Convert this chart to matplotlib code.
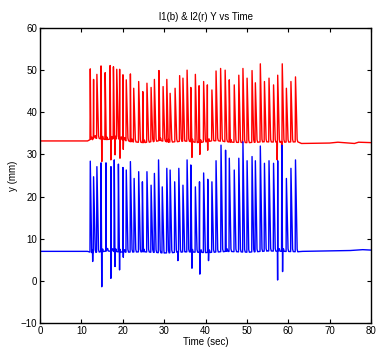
import matplotlib
matplotlib.use("Agg")
import matplotlib.pyplot as plt

# ---- data ----
red_spike_t = [12.1, 12.9, 13.7, 14.7, 15.7, 16.9, 17.7, 18.5, 19.2, 20.0, 20.8, 21.8, 22.6, 23.8,
               24.8, 25.8, 26.8, 27.6, 28.7, 29.7, 30.6, 31.4, 32.6, 33.7, 34.5, 35.5, 36.4, 37.5,
               38.4, 39.5, 40.4, 41.5, 42.5, 43.6, 44.7, 45.7, 46.9, 48.0, 49.0, 50.0, 51.2, 52.0,
               53.2, 54.2, 55.3, 56.4, 57.4, 58.5, 59.5, 60.6, 61.7]
red_spike_v = [50.3, 47.8, 49.0, 51.0, 49.4, 51.1, 50.8, 50.2, 50.2, 48.9, 47.7, 49.1, 45.7, 47.3,
               44.9, 46.9, 45.9, 47.8, 49.9, 46.1, 47.8, 44.5, 45.7, 48.7, 48.1, 50.0, 45.9, 49.0,
               46.3, 47.3, 46.5, 45.3, 49.8, 50.4, 50.0, 47.7, 46.5, 48.8, 50.4, 48.1, 49.9, 47.0,
               51.5, 47.3, 48.1, 46.5, 48.8, 51.5, 45.7, 47.3, 48.4]
red_dip_t = [14.9, 17.1, 18.1, 19.3, 20.1, 36.7, 38.6, 40.5, 57.3, 58.4]
red_dip_v = [28.3, 28.7, 29.9, 29.1, 31.2, 29.3, 30.0, 31.0, 28.7, 28.3]
red_base_t = [0, 11.5, 12.3, 13.0, 16.0, 18.0, 22.0, 25.0, 29.0, 31.0, 35.0, 38.0, 42.0, 46.0,
              50.0, 54.0, 58.0, 62.3, 63.2, 70, 72, 76, 77, 80]
red_base_v = [33.2, 33.2, 33.6, 33.9, 33.5, 33.8, 33.0, 32.8, 33.3, 32.9, 33.2, 32.8, 33.3, 32.9,
              32.8, 33.0, 32.9, 33.0, 32.6, 32.7, 32.9, 32.6, 32.9, 32.8]

blue_spike_t = [12.1, 12.9, 13.7, 14.7, 15.9, 17.1, 17.9, 18.9, 20.0, 20.8, 21.8, 22.7, 23.8,
                24.7, 25.8, 26.8, 27.6, 28.6, 29.5, 30.6, 31.4, 32.5, 33.5, 34.5, 35.5, 36.4,
                37.5, 38.5, 39.5, 40.5, 41.5, 42.5, 43.7, 44.8, 45.7, 46.9, 48.0, 49.0, 50.0,
                51.2, 52.0, 53.2, 54.2, 55.3, 56.4, 57.4, 58.4, 59.5, 60.6, 61.7]
blue_spike_v = [28.4, 24.7, 27.1, 28.0, 28.0, 27.1, 28.7, 27.7, 26.9, 26.3, 28.3, 24.3, 25.9,
                23.5, 25.9, 22.7, 25.5, 28.7, 22.3, 26.7, 26.3, 23.5, 26.7, 22.7, 28.7, 27.5,
                22.3, 23.5, 25.6, 24.1, 23.5, 28.5, 32.2, 31.0, 29.1, 26.3, 29.1, 33.0, 28.5,
                29.5, 28.5, 32.0, 27.9, 28.5, 27.9, 28.5, 32.2, 24.3, 26.7, 28.7]
blue_dip_t = [12.7, 14.9, 17.1, 18.1, 19.2, 20.1, 33.3, 36.7, 38.6, 40.7, 57.4, 58.6]
blue_dip_v = [4.6, -1.4, 0.6, 3.4, 2.6, 5.6, 4.8, 3.0, 1.6, 4.8, 0.2, 2.2]
blue_base_t = [0, 11.5, 12.5, 16.0, 20.0, 25.0, 30, 35.0, 40.0, 45, 50.0, 55.0, 62.3, 63.5,
               70, 75, 78, 80]
blue_base_v = [7.0, 7.0, 6.7, 7.1, 6.8, 6.9, 6.6, 6.9, 6.7, 7.0, 6.8, 7.1, 6.9, 7.0,
               7.1, 7.2, 7.4, 7.3]

xticks = [0, 10, 20, 30, 40, 50, 60, 70, 80]
yticks = [-10, 0, 10, 20, 30, 40, 50, 60]


def base_at(t, bt, bv):
    for i in range(len(bt) - 1):
        if bt[i] <= t <= bt[i + 1]:
            f = (t - bt[i]) / (bt[i + 1] - bt[i])
            return bv[i] + f * (bv[i + 1] - bv[i])
    return bv[-1]


def build(spt, spv, dpt, dpv, bt, bv):
    pts = [(t, v) for t, v in zip(bt, bv)]
    for t, v in zip(spt, spv):
        b = base_at(t, bt, bv)
        pts += [(t - 0.02, b), (t + 0.05, v), (t + 0.45, b + 0.6), (t + 0.6, b)]
    for t, v in zip(dpt, dpv):
        b = base_at(t, bt, bv)
        pts += [(t - 0.01, b), (t + 0.03, v), (t + 0.08, b)]
    pts.sort(key=lambda p: p[0])
    return [p[0] for p in pts], [p[1] for p in pts]


plt.rcParams['font.family'] = ['Liberation Sans', 'DejaVu Sans']
fig = plt.figure(figsize=(3.76, 3.56), dpi=100)
ax = fig.add_axes([40 / 376, 1 - 323 / 356, 331 / 376, 295 / 356])

rx, ry = build(red_spike_t, red_spike_v, red_dip_t, red_dip_v, red_base_t, red_base_v)
bx, by = build(blue_spike_t, blue_spike_v, blue_dip_t, blue_dip_v, blue_base_t, blue_base_v)
ax.plot(rx, ry, color='#ff0000', lw=1.0)
ax.plot(bx, by, color='#0000ff', lw=1.0)

ax.set_xlim(0, 80)
ax.set_ylim(-10, 60)
ax.set_xticks(xticks)
ax.set_yticks(yticks)
ax.tick_params(direction='in', top=True, right=True, length=3, width=0.8, labelsize=7, pad=2)
for s in ax.spines.values():
    s.set_linewidth(1.0)
ax.set_title('l1(b) & l2(r) Y vs Time', fontsize=7, pad=6)
ax.set_xlabel('Time (sec)', fontsize=7, labelpad=1)
ax.set_ylabel('y (mm)', fontsize=7, labelpad=2)

fig.savefig('out.png', dpi=100)
